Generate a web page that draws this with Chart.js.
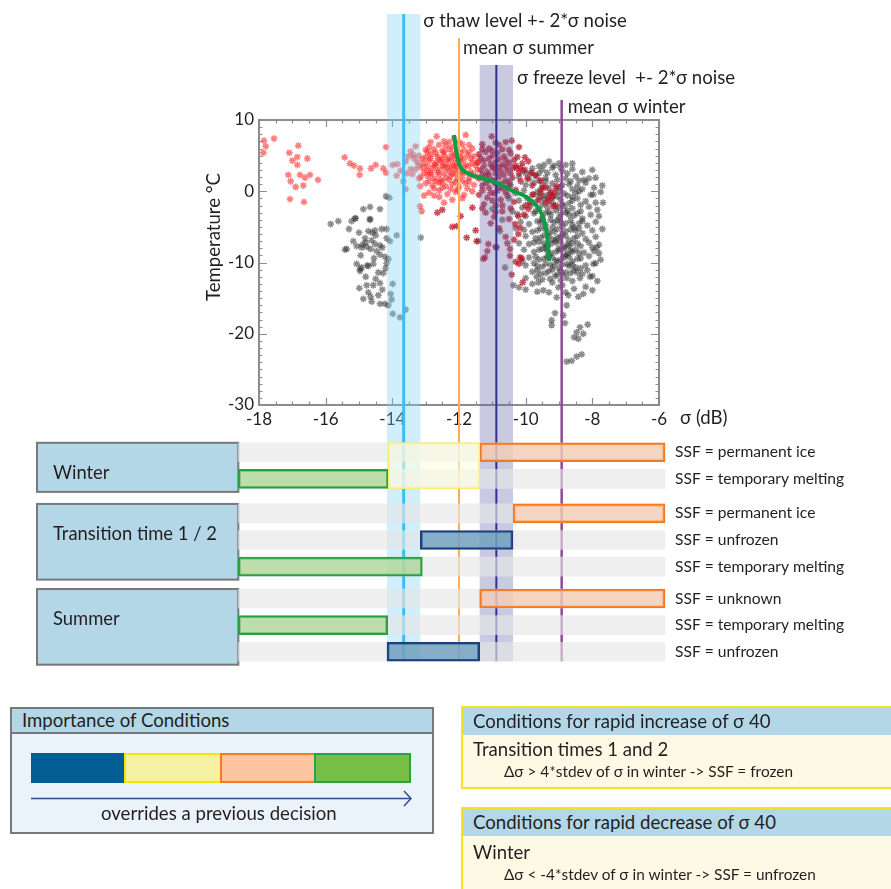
<!DOCTYPE html>
<html>
<head>
<meta charset="utf-8">
<script src="https://cdn.jsdelivr.net/npm/chart.js@4.4.1/dist/chart.umd.min.js"></script>
<style>
  body { margin: 0; background: #fff; font-family: Lato, sans-serif; color: #231f20; }
  #wrap { position: relative; width: 891px; height: 889px; overflow: hidden; }
  canvas { position: absolute; left: 0; }
  .box { position: absolute; box-sizing: border-box; }
  .txt { position: absolute; white-space: nowrap; line-height: 22px; }
</style>
</head>
<body>
<div id="wrap">
  <canvas id="topChart" width="891" height="430" style="top:0"></canvas>
  <canvas id="tableChart" width="891" height="250" style="top:430px"></canvas>

  <!-- importance of conditions -->
  <div class="box" style="left:10px;top:707px;width:424px;height:127px;border:2px solid #77787b;background:#eaf3f9"></div>
  <div class="box" style="left:10px;top:707px;width:424px;height:27px;border:2px solid #77787b;background:#b3d7e6"></div>
  <div class="txt" style="left:22px;top:709px;font-size:18.6px">Importance of Conditions</div>
  <div class="box" style="left:31px;top:753px;width:94px;height:30px;background:#035e96"></div>
  <div class="box" style="left:124px;top:753px;width:98px;height:30px;background:#f6f1a2;border:2px solid #f2e500"></div>
  <div class="box" style="left:220px;top:753px;width:96px;height:30px;background:#fcc49f;border:2px solid #f47b20"></div>
  <div class="box" style="left:314px;top:753px;width:97px;height:30px;background:#76bf44;border:2px solid #2aa14a"></div>
  <svg style="position:absolute;left:0;top:0" width="891" height="889">
    <line x1="31" y1="798.5" x2="410" y2="798.5" stroke="#2b4e8c" stroke-width="1.5"/>
    <polyline points="404,791 411,798.5 404,806" fill="none" stroke="#2b4e8c" stroke-width="1.5"/>
  </svg>
  <div class="txt" style="left:101px;top:802px;font-size:18.6px">overrides a previous decision</div>

  <!-- rapid increase -->
  <div class="box" style="left:461px;top:706px;width:440px;height:83px;border:2px solid #f4e41c;background:#fdf9e4"></div>
  <div class="box" style="left:463px;top:708px;width:440px;height:27px;background:#b3d7e6"></div>
  <div class="txt" style="left:473px;top:710px;font-size:18.6px">Conditions for rapid increase of σ 40</div>
  <div class="txt" style="left:473px;top:738px;font-size:18.6px">Transition times 1 and 2</div>
  <div class="txt" style="left:504px;top:760px;font-size:15.4px">Δσ &gt; 4*stdev of σ in winter -&gt; SSF = frozen</div>

  <!-- rapid decrease -->
  <div class="box" style="left:461px;top:807px;width:440px;height:100px;border:2px solid #f4e41c;background:#fdf9e4"></div>
  <div class="box" style="left:463px;top:809px;width:440px;height:27px;background:#b3d7e6"></div>
  <div class="txt" style="left:473px;top:811px;font-size:18.6px">Conditions for rapid decrease of σ 40</div>
  <div class="txt" style="left:473px;top:841px;font-size:18.6px">Winter</div>
  <div class="txt" style="left:504px;top:863px;font-size:15.4px">Δσ &lt; -4*stdev of σ in winter -&gt; SSF = unfrozen</div>
</div>

<script>
// reference levels (dB)
const thawLevel = -13.66;
const freezeLevel = -10.88;
const noiseHalf = 0.5;
const meanSummer = -12.0;
const meanWinter = -8.92;

// tick labels
const xTicks = [-18, -16, -14, -12, -10, -8, -6];
const yTicks = [-30, -20, -10, 0, 10];

// model curve
const curveX = [-12.15, -12.1, -12.05, -11.97, -11.77, -11.37, -10.87, -10.37, -10.12, -9.92, -9.72, -9.55, -9.42, -9.34, -9.3];
const curveY = [7.9, 6.2, 4.9, 3.5, 2.6, 1.9, 1.2, 0.0, -0.45, -1.0, -1.8, -2.9, -4.6, -7.0, -9.8];

// summer-ish points (light / bright red)
const redPts = [
  [-17.85,7.1],[-17.55,7.4],[-17.8,6.3],[-17.87,5.4],[-17.09,5.4],[-16.82,6.4],[-17.0,4.3],[-16.85,4.8],
  [-16.85,3.7],[-16.55,4.6],[-17.12,2.3],[-16.77,2.3],[-16.47,2.3],[-16.62,1.9],[-17.05,1.4],[-16.67,0.8],
  [-16.9,0.6],[-16.23,1.6],[-17.07,-1.1],[-16.65,-1.5],[-15.43,4.75],[-15.27,3.9],[-15.15,3.6],[-14.97,3.2],
  [-14.98,2.3],[-14.64,3.2],[-14.5,3.7],[-14.19,6.2],[-14.27,3.2],[-14.19,2.6],[-13.99,3.7],[-13.87,2.2],
  [-13.67,1.4],[-13.57,2.5],[-13.45,5.6],[-13.52,4.9],[-13.45,3.1],[-13.37,5.1],[-13.85,3.8],[-13.17,0.7],
  [-13.17,-2.1],[-13.12,-2.8],[-12.59,-0.8],
  [-13.3,6.3],[-13.6,4.2],[-13.75,2.9],[-13.2,1.8],[-13.05,-0.6],[-13.6,0.3],
  [-12.67,7.7],[-11.8,7.9],[-12.3,6.9],[-12.9,6.2],[-12.6,6.5],[-12.2,6.2],[-11.9,6.6],[-12.45,7.0],
  [-13.0,5.8],[-12.75,5.9],[-12.5,5.7],[-12.3,5.9],[-12.05,5.6],[-11.85,5.8],[-11.6,6.0],
  [-13.2,5.0],[-13.0,4.8],[-12.85,5.2],[-12.65,4.9],[-12.45,5.1],[-12.3,4.7],[-12.15,5.0],[-11.95,4.8],[-11.75,5.1],[-11.55,4.9],
  [-13.25,4.1],[-13.05,3.9],[-12.9,4.3],[-12.7,4.0],[-12.55,4.2],[-12.4,3.8],[-12.25,4.3],[-12.1,3.9],[-11.95,4.1],[-11.8,3.7],[-11.6,4.0],[-11.4,4.2],
  [-13.3,3.1],[-13.1,3.3],[-12.95,2.9],[-12.8,3.2],[-12.6,3.0],[-12.45,3.4],[-12.3,2.8],[-12.15,3.1],[-12.0,2.9],[-11.85,3.3],[-11.65,2.7],[-11.45,3.0],
  [-13.15,2.0],[-12.95,2.2],[-12.75,1.8],[-12.6,2.3],[-12.4,1.9],[-12.25,2.1],[-12.05,1.7],[-11.9,2.2],[-11.7,1.9],[-11.5,2.1],
  [-13.0,1.1],[-12.8,0.8],[-12.6,1.2],[-12.4,0.7],[-12.2,1.0],[-12.0,0.6],[-11.8,1.1],[-11.55,0.9],
  [-12.9,-0.2],[-12.6,0.1],[-12.35,-0.4],[-12.1,-0.1],[-11.85,-0.5],[-11.6,0.0],
  [-12.7,3.6],[-12.35,3.3],[-12.2,2.5],[-12.5,4.5],[-12.0,4.4],[-12.85,2.6],[-12.55,1.6],[-12.15,3.6],
  [-12.95,5.5],[-12.7,5.4],[-12.45,5.5],[-12.2,5.3],[-11.95,5.4],[-11.7,5.5],
  [-13.1,4.5],[-12.85,4.6],[-12.6,4.5],[-12.35,4.4],[-12.1,4.6],[-11.85,4.5],[-11.65,4.6],
  [-13.2,3.6],[-12.95,3.5],[-12.75,3.7],[-12.5,3.6],[-12.25,3.5],[-12.05,3.4],[-11.7,3.5],[-11.5,3.6],
  [-13.05,2.6],[-12.85,2.4],[-12.65,2.7],[-12.45,2.5],[-12.1,2.4],[-11.9,2.7],[-11.6,2.4],
  [-12.9,1.5],[-12.7,1.4],[-12.5,1.3],[-12.3,1.6],[-12.1,1.3],[-11.9,1.5],[-11.7,1.4],
  [-12.75,0.4],[-12.5,0.5],[-12.25,0.3],[-12.05,0.2],[-11.75,0.4],
  [-13.35,4.6],[-13.4,2.4],[-12.15,7.4],[-12.85,6.9],[-12.0,6.9],[-12.4,6.4],[-11.7,6.5],[-12.75,-0.6],
  [-12.2,-1.2],[-11.9,-1.0],[-12.45,-1.6]
];

// transition points (dark red)
const darkRedPts = [
  [-11.02,7.7],[-10.42,7.1],[-11.3,6.6],[-10.8,6.5],[-10.6,6.9],[-11.1,6.0],[-10.2,6.2],
  [-11.4,5.2],[-11.2,5.5],[-11.0,5.0],[-10.85,5.4],[-10.65,4.9],[-10.45,5.3],[-10.25,4.8],[-10.02,4.75],[-9.92,4.2],
  [-11.45,4.0],[-11.25,4.3],[-11.05,3.8],[-10.9,4.1],[-10.7,3.7],[-10.5,4.0],[-10.3,3.6],[-10.1,3.9],
  [-11.35,3.0],[-11.15,2.7],[-10.95,3.2],[-10.75,2.8],[-10.55,3.0],[-10.27,3.2],[-10.02,3.0],[-9.82,2.6],
  [-11.4,1.8],[-11.2,2.1],[-11.0,1.6],[-10.8,2.0],[-10.6,1.5],[-10.4,1.9],[-10.15,1.4],
  [-11.3,0.8],[-11.1,0.5],[-10.9,1.0],[-10.7,0.4],[-10.5,0.7],[-10.3,0.2],
  [-11.4,-0.5],[-11.15,-0.9],[-10.95,-0.3],[-10.75,-1.2],[-10.55,-0.6],[-10.35,-1.5],[-11.25,-1.8],[-10.9,-2.0],
  [-11.2,-3.0],[-10.95,-3.6],[-10.7,-2.8],[-10.5,-3.9],[-10.22,-3.5],[-10.32,-4.6],[-10.17,-5.1],[-10.22,-6.0],
  [-11.05,-4.5],[-10.8,-5.2],[-10.6,-6.4],[-10.47,-8.1],[-10.17,-9.3],[-10.47,-9.05],[-10.12,-9.4],[-10.2,-10.2],
  [-10.42,-11.7],[-10.09,-12.8],[-11.27,-9.5],[-11.12,-7.4],[-11.47,-7.0],[-11.22,-9.3],
  [-9.77,-0.45],[-9.32,-0.9],[-9.18,-0.7],[-9.4,-1.6],[-9.1,-2.0],[-9.6,-1.2],[-9.07,0.7],[-9.4,0.6],
  [-9.25,-0.2],[-9.17,-2.1],[-9.87,-1.6],[-9.92,-2.5],[-9.55,1.5],[-9.7,2.2],
  [-12.07,-4.9],[-12.2,-5.0],[-11.77,-6.5],[-12.65,-3.0],[-12.5,-2.6],[-11.95,-3.5],[-11.5,-5.5],[-11.6,-2.3],
  [-11.3,5.9],[-11.0,5.7],[-10.7,5.9],[-10.5,5.8],[-10.9,6.8],[-11.35,4.6],[-11.1,4.6],[-10.8,4.5],[-10.6,4.4],
  [-10.35,4.4],[-11.25,3.5],[-11.0,3.4],[-10.8,3.4],[-10.6,3.5],[-10.4,3.3],[-10.15,3.3],[-11.3,2.4],[-11.1,2.3],
  [-10.9,2.5],[-10.65,2.3],[-10.45,2.5],[-10.2,2.5],[-11.2,1.2],[-10.95,1.4],[-10.7,1.1],[-10.5,1.3],[-11.3,0.1],
  [-11.05,-0.2],[-10.85,0.1],[-10.6,-0.1],[-11.0,-1.3],[-10.7,-2.0],[-10.45,-2.4],[-10.9,-2.9],[-11.3,-2.4],
  [-10.0,-2.0],[-9.55,-0.3],[-9.3,-1.3],[-9.15,-0.2],[-9.5,0.4],[-9.8,0.8],[-9.95,1.8],[-10.05,-3.3],[-10.35,-6.8],
  [-10.55,-7.3],[-10.9,-7.8],[-11.15,-8.4],[-10.3,-9.9]
];

// winter points (grey)
const grayPts = [
  [-14.19,-0.7],[-14.09,-0.9],[-14.67,-2.2],[-14.87,-2.5],[-14.37,-2.5],[-14.67,-3.9],[-15.12,-3.8],[-15.22,-4.2],
  [-15.62,-4.2],[-15.85,-4.6],[-15.1,-3.8],[-14.67,-4.0],[-14.72,-5.6],[-14.52,-5.5],[-14.32,-5.3],[-14.17,-5.3],
  [-13.87,-6.2],[-13.15,-6.5],[-15.17,-7.0],[-14.82,-6.6],[-14.62,-6.9],[-14.17,-6.6],[-14.07,-7.0],[-15.07,-7.7],
  [-14.92,-7.9],[-14.77,-7.8],[-14.52,-7.4],[-14.37,-7.6],[-15.42,-8.2],[-14.47,-8.4],[-14.37,-8.9],[-14.22,-9.2],
  [-14.12,-9.5],[-14.17,-10.1],[-15.07,-10.2],[-14.92,-10.7],[-14.72,-10.5],[-14.57,-10.2],[-14.97,-11.2],[-14.42,-11.4],
  [-14.27,-11.5],[-14.99,-13.6],[-14.77,-13.2],[-14.57,-13.2],[-14.37,-12.9],[-13.99,-13.0],[-14.72,-14.2],[-14.87,-15.1],
  [-14.62,-15.5],[-14.42,-14.6],[-14.37,-15.8],[-14.22,-15.8],[-14.12,-16.0],[-14.02,-15.2],[-13.99,-17.2],[-13.77,-17.7],
  [-13.6,-16.6],[-14.75,-10.4],[-14.9,-7.5],[-14.6,-5.8],[-15.37,-8.1],[-14.97,-10.9],
  [-14.5,-6.2],[-14.8,-7.2],[-14.65,-8.1],[-14.3,-7.9],[-14.95,-9.0],[-14.55,-9.4],[-14.8,-12.0],[-14.5,-12.3],
  [-14.65,-14.8],[-14.3,-13.8],[-14.05,-14.4],[-15.3,-5.3],[-15.0,-5.8],[-14.2,-10.8],
  [-9.3,4.2],[-9.0,3.9],[-8.8,3.7],[-9.6,3.5],[-8.6,3.9],
  [-10.1,2.9],[-9.8,3.2],[-9.5,3.0],[-9.2,3.3],[-8.9,2.8],[-8.6,3.1],[-8.3,2.7],[-8.0,3.0],
  [-10.2,2.0],[-9.9,1.7],[-9.7,2.2],[-9.4,1.9],[-9.1,2.3],[-8.8,1.8],[-8.5,2.1],[-8.25,1.6],[-7.9,1.9],
  [-10.0,0.9],[-9.75,1.2],[-9.5,0.8],[-9.2,1.1],[-8.95,0.6],[-8.7,1.0],[-8.45,0.7],[-8.2,1.2],[-7.95,0.5],[-7.7,0.8],
  [-10.3,-0.3],[-10.05,0.1],[-9.8,-0.5],[-9.55,0.2],[-9.3,-0.4],[-9.0,0.0],[-8.75,-0.6],[-8.5,-0.2],[-8.3,0.3],[-8.05,-0.5],[-7.75,-0.1],
  [-10.2,-1.3],[-9.95,-1.0],[-9.7,-1.5],[-9.45,-1.1],[-9.2,-1.6],[-8.95,-1.2],[-8.7,-1.7],[-8.45,-1.0],[-8.2,-1.4],[-7.9,-1.6],
  [-10.1,-2.3],[-9.85,-2.0],[-9.6,-2.5],[-9.35,-2.2],[-9.1,-2.7],[-8.85,-2.1],[-8.6,-2.4],[-8.35,-2.8],[-8.1,-2.2],[-7.85,-2.6],
  [-10.25,-3.2],[-10.0,-3.5],[-9.75,-3.1],[-9.5,-3.6],[-9.25,-3.3],[-9.0,-3.7],[-8.8,-3.0],[-8.55,-3.4],[-8.3,-3.8],[-8.05,-3.3],
  [-10.15,-4.3],[-9.9,-4.6],[-9.65,-4.2],[-9.4,-4.7],[-9.15,-4.4],[-8.9,-4.9],[-8.65,-4.1],[-8.4,-4.5],[-8.15,-4.8],[-7.9,-4.3],
  [-10.05,-5.4],[-9.8,-5.7],[-9.55,-5.2],[-9.3,-5.8],[-9.05,-5.3],[-8.8,-5.6],[-8.55,-5.1],[-8.3,-5.9],[-8.0,-5.5],
  [-10.0,-6.3],[-9.7,-6.6],[-9.45,-6.2],[-9.2,-6.8],[-8.95,-6.4],[-8.7,-6.9],[-8.45,-6.3],[-8.2,-6.7],[-7.9,-6.4],
  [-9.9,-7.4],[-9.6,-7.1],[-9.35,-7.6],[-9.1,-7.2],[-8.85,-7.8],[-8.6,-7.3],[-8.35,-7.7],[-8.1,-7.2],[-7.8,-7.5],
  [-10.05,-8.2],[-9.75,-8.5],[-9.5,-8.1],[-9.25,-8.7],[-9.0,-8.3],[-8.75,-8.8],[-8.5,-8.2],[-8.25,-8.6],[-7.95,-8.4],
  [-9.9,-9.3],[-9.6,-9.6],[-9.35,-9.2],[-9.1,-9.7],[-8.85,-9.3],[-8.6,-9.8],[-8.35,-9.4],[-8.1,-9.1],[-7.75,-9.6],
  [-10.0,-10.4],[-9.75,-10.1],[-9.5,-10.6],[-9.25,-10.3],[-9.0,-10.8],[-8.75,-10.2],[-8.5,-10.7],[-8.2,-10.4],[-7.9,-10.1],
  [-9.8,-11.3],[-9.55,-11.6],[-9.3,-11.2],[-9.05,-11.7],[-8.8,-11.4],[-8.55,-11.1],[-8.3,-11.6],
  [-10.0,-12.2],[-9.67,-12.0],[-9.27,-12.3],[-9.12,-11.9],[-8.77,-12.2],[-8.37,-12.2],[-8.07,-12.0],[-9.02,-13.5],
  [-10.37,-13.2],[-10.2,-13.5],[-10.0,-13.8],[-9.62,-12.8],[-9.47,-13.9],[-9.3,-14.2],[-8.72,-14.6],[-8.42,-14.8],
  [-8.27,-14.4],[-9.07,-14.9],[-8.9,-13.2],
  [-8.77,-16.0],[-9.12,-17.1],[-8.87,-17.4],[-9.22,-18.1],[-9.22,-18.8],[-8.82,-18.5],[-8.14,-18.7],[-8.37,-19.1],
  [-8.47,-19.8],[-8.27,-20.0],[-8.55,-20.5],[-8.42,-20.7],[-8.32,-22.9],[-8.47,-23.2],[-8.62,-23.8],[-8.77,-23.9],
  [-11.42,-7.0],[-10.87,-7.9],[-10.62,-10.7],[-10.77,-5.6],[-11.0,-2.5],[-10.7,-4.0],[-10.5,-1.0],[-11.1,1.5],[-10.8,0.5],
  [-7.68,-1.6],[-7.97,-0.45],[-7.87,-7.9],[-7.97,-10.2],[-8.0,-11.9],
  [-9.4,1.4],[-9.1,0.4],[-8.85,-0.3],[-9.2,-0.9],[-8.9,-1.8],[-9.3,-2.9],[-8.7,-3.3],[-9.05,-4.1],[-8.8,-4.5],
  [-9.2,-5.1],[-8.9,-6.0],[-9.1,-6.9],[-8.75,-7.5],[-9.0,-8.0],[-8.8,-9.0],[-9.05,-9.9],[-8.7,-10.5],[-8.95,-11.2],
  [-9.3,-9.0],[-8.6,-8.5],[-9.4,-7.9],[-8.5,-5.5],[-9.5,-4.0],[-8.6,-1.3],[-9.6,-0.8],[-8.4,0.0],
  [-9.45,3.7],[-9.15,3.6],[-8.95,3.3],[-8.75,2.5],[-9.35,2.6],[-9.6,2.5],[-9.85,2.5],[-9.05,1.6],[-8.65,1.4],
  [-8.4,1.5],[-9.6,1.5],[-9.3,0.4],[-8.9,0.9],[-8.6,0.3],[-9.65,-0.1],[-9.45,-0.6],[-9.05,-0.7],[-8.6,-0.8],
  [-8.35,-1.9],[-9.5,-1.9],[-9.0,-2.3],[-8.75,-2.7],[-9.7,-2.8],[-9.4,-3.0],[-8.95,-3.2],[-8.45,-3.1],[-9.55,-4.4],
  [-9.25,-4.0],[-8.95,-4.4],[-8.6,-4.7],[-8.3,-4.2],[-9.65,-5.5],[-9.4,-5.3],[-9.15,-5.7],[-8.65,-5.4],[-8.4,-5.2],
  [-9.55,-6.5],[-9.3,-6.3],[-9.05,-6.5],[-8.8,-6.3],[-8.55,-6.6],[-9.75,-7.2],[-9.45,-7.3],[-9.25,-7.4],[-8.95,-7.1],
  [-8.7,-7.7],[-8.45,-7.3],[-9.6,-8.2],[-9.35,-8.4],[-9.1,-8.5],[-8.85,-8.1],[-8.65,-8.3],[-8.4,-8.7],[-9.7,-9.2],
  [-9.45,-9.5],[-9.2,-9.3],[-8.95,-9.6],[-8.7,-9.2],[-8.45,-9.5],[-9.65,-10.5],[-9.4,-10.2],[-9.15,-10.5],[-8.9,-10.3],
  [-8.6,-10.3],[-8.35,-10.8],[-9.65,-11.1],[-9.4,-11.5],[-9.2,-11.0],[-8.9,-11.7],[-8.65,-11.5],[-8.45,-11.4],
  [-9.5,-12.4],[-9.2,-12.8],[-8.95,-12.5],[-8.6,-12.6],[-9.8,-13.0],[-9.65,-14.1],[-8.8,-14.2],[-8.55,-13.7],
  [-8.2,-13.4],[-8.0,-13.9],[-10.1,-9.8],[-10.2,-7.3],[-10.3,-5.2],[-10.4,-2.8],[-10.45,0.9],[-10.0,2.5],[-7.8,-3.5],
  [-7.7,-5.3],[-7.8,-8.7],[-7.85,-12.6],[-8.1,1.8],[-8.0,-7.9],[-8.15,-11.1]
];

// decision table
const seasons = ['Winter', 'Transition time 1 / 2', 'Summer'];
const rowSeason = [0, 0, 1, 1, 1, 2, 2, 2];
const rowLabels = ['SSF = permanent ice', 'SSF = temporary melting', 'SSF = permanent ice', 'SSF = unfrozen',
                   'SSF = temporary melting', 'SSF = unknown', 'SSF = temporary melting', 'SSF = unfrozen'];
const barStart = [-11.38, -18.62, -10.38, -13.16, -18.62, -11.38, -18.62, -14.16];
const barEnd   = [-5.82, -14.12, -5.82, -10.38, -13.1, -5.82, -14.14, -11.38];
const barKind  = ['ice', 'melt', 'ice', 'unfrozen', 'melt', 'ice', 'melt', 'unfrozen'];
const rowRange = [-18.62, -5.82];
const winterUncertain = [-14.12, -11.38];

const kindFill = { ice: 'rgba(250,188,150,0.5)', melt: 'rgba(160,210,130,0.62)', unfrozen: 'rgba(60,128,172,0.58)' };
const kindLine = { ice: '#f47b20', melt: '#27a046', unfrozen: '#1d3f7c' };
const groupGap = [0, 0.3, 0.5];
const rowPos = rowSeason.map((g, i) => i + groupGap[g]);

const FONT = 'Lato, sans-serif';
const INK = '#231f20';

function drawLevels(chart, tops, bottom) {
  const { ctx } = chart;
  const x = chart.scales.x;
  ctx.save();
  // noise bands
  ctx.fillStyle = 'rgba(120,210,240,0.35)';
  let l = x.getPixelForValue(thawLevel - noiseHalf), r = x.getPixelForValue(thawLevel + noiseHalf);
  ctx.fillRect(l, tops.thaw, r - l, bottom - tops.thaw);
  ctx.fillStyle = 'rgba(100,100,170,0.35)';
  l = x.getPixelForValue(freezeLevel - noiseHalf); r = x.getPixelForValue(freezeLevel + noiseHalf);
  ctx.fillRect(l, tops.freeze, r - l, bottom - tops.freeze);
  // level lines
  const line = (v, top, color, w) => {
    const px = x.getPixelForValue(v);
    ctx.strokeStyle = color; ctx.lineWidth = w;
    ctx.beginPath(); ctx.moveTo(px, top); ctx.lineTo(px, bottom); ctx.stroke();
  };
  line(thawLevel, tops.thaw, '#3cbfee', 3);
  line(meanSummer, tops.summer, '#fbad5a', 2);
  line(freezeLevel, tops.freeze, '#2e3192', 2);
  line(meanWinter, tops.winter, '#92479b', 2.5);
  ctx.restore();
}

const levelPlugin = {
  id: 'levels',
  beforeDatasetDraw(chart, args) {
    if (args.index !== 0) return;
    drawLevels(chart, { thaw: 14, summer: 38, freeze: 65, winter: 100 }, chart.height);
  },
  beforeDatasetsDraw(chart) {
    const { ctx, chartArea: a, scales: { x, y } } = chart;
    ctx.save();
    ctx.strokeStyle = '#8c8c8c';
    ctx.lineWidth = 2;
    ctx.strokeRect(a.left, a.top, a.right - a.left, a.bottom - a.top);
    ctx.lineWidth = 1.2;
    ctx.beginPath();
    for (let v = -18; v <= -5.99; v += 0.5) {
      const px = Math.round(x.getPixelForValue(v)) + 0.5;
      const len = Math.abs(v % 2) < 0.01 ? 7 : 3.5;
      ctx.moveTo(px, a.bottom); ctx.lineTo(px, a.bottom - len);
      ctx.moveTo(px, a.top); ctx.lineTo(px, a.top + len);
    }
    for (let v = -30; v <= 10; v += 1) {
      const py = Math.round(y.getPixelForValue(v)) + 0.5;
      const len = v % 10 === 0 ? 8 : 3.5;
      ctx.moveTo(a.left, py); ctx.lineTo(a.left + len, py);
      ctx.moveTo(a.right, py); ctx.lineTo(a.right - len, py);
    }
    ctx.stroke();
    ctx.restore();
  },
  afterDraw(chart) {
    const { ctx, scales: { x } } = chart;
    ctx.save();
    ctx.fillStyle = INK;
    ctx.font = '18.6px ' + FONT;
    ctx.textBaseline = 'middle';
    ctx.fillText('σ thaw level +- 2*σ noise', x.getPixelForValue(thawLevel + noiseHalf) + 3, 21);
    ctx.fillText('mean σ summer', x.getPixelForValue(meanSummer) + 4, 48);
    ctx.fillText('σ freeze level  +- 2*σ noise', x.getPixelForValue(freezeLevel + noiseHalf) + 4, 78);
    ctx.fillText('mean σ winter', x.getPixelForValue(meanWinter) + 6, 107);
    ctx.fillText('σ (dB)', 680, 418);
    ctx.translate(214, 237);
    ctx.rotate(-Math.PI / 2);
    ctx.textAlign = 'center';
    ctx.fillText('Temperature °C', 0, 0);
    ctx.restore();
  }
};

const toXY = pts => pts.map(p => ({ x: p[0], y: p[1] }));
const marker = (color, order, pts) => ({
  type: 'scatter', data: toXY(pts), order,
  pointStyle: 'star', pointRadius: 3.4, pointBorderWidth: 1.5,
  borderColor: color, backgroundColor: color, pointHoverRadius: 3.4
});

new Chart(document.getElementById('topChart'), {
  type: 'scatter',
  data: {
    datasets: [
      { type: 'line', data: curveX.map((v, i) => ({ x: v, y: curveY[i] })), order: 0,
        borderColor: '#0e9c47', borderWidth: 4, pointRadius: 0, cubicInterpolationMode: 'monotone',
        fill: false, borderCapStyle: 'butt' },
      marker('rgba(255,40,40,0.6)', 1, redPts),
      marker('rgba(185,15,35,0.74)', 2, darkRedPts),
      marker('rgba(45,45,45,0.55)', 3, grayPts)
    ]
  },
  options: {
    responsive: false,
    animation: false,
    layout: { padding: { left: 209, right: 232, top: 120, bottom: 3 } },
    plugins: { legend: { display: false }, tooltip: { enabled: false } },
    scales: {
      x: {
        type: 'linear', min: -18, max: -6,
        afterBuildTicks: s => { s.ticks = xTicks.map(v => ({ value: v })); },
        afterFit: s => { s.height = 22; },
        grid: { display: false, drawTicks: false }, border: { display: false },
        ticks: { font: { family: FONT, size: 17 }, color: INK, padding: 4, maxRotation: 0 }
      },
      y: {
        type: 'linear', min: -30, max: 10,
        afterBuildTicks: s => { s.ticks = yTicks.map(v => ({ value: v })); },
        afterFit: s => { s.width = 50; },
        grid: { display: false, drawTicks: false }, border: { display: false },
        ticks: { font: { family: FONT, size: 17 }, color: INK, padding: 5 }
      }
    }
  },
  plugins: [levelPlugin]
});

const tablePlugin = {
  id: 'table',
  beforeDatasetsDraw(chart) {
    const { ctx, scales: { x, y } } = chart;
    const bottom = y.getPixelForValue(rowPos[7]) + 9.5;
    drawLevels(chart, { thaw: 0, summer: 0, freeze: 0, winter: 0 }, bottom);
    ctx.save();
    const right = x.getPixelForValue(rowRange[0]);
    seasons.forEach((name, g) => {
      const rows = rowPos.filter((p, i) => rowSeason[i] === g);
      const top = y.getPixelForValue(rows[0]) - 9.5;
      const bot = y.getPixelForValue(rows[rows.length - 1]) + 13;
      ctx.fillStyle = '#b3d7e6';
      ctx.fillRect(37, top, right - 37, bot - top);
      ctx.strokeStyle = '#77787b';
      ctx.lineWidth = 2;
      ctx.strokeRect(37, top, right - 37, bot - top);
      ctx.fillStyle = INK;
      ctx.font = '18.4px ' + FONT;
      ctx.textBaseline = 'middle';
      ctx.fillText(name, 53, top + 30);
    });
    ctx.restore();
  },
  afterDraw(chart) {
    const { ctx, scales: { x, y } } = chart;
    ctx.save();
    ctx.fillStyle = INK;
    ctx.font = '15.6px ' + FONT;
    ctx.textBaseline = 'middle';
    rowLabels.forEach((t, i) => ctx.fillText(t, x.getPixelForValue(rowRange[1]) + 10, y.getPixelForValue(rowPos[i])));
    ctx.restore();
  }
};

new Chart(document.getElementById('tableChart'), {
  type: 'bar',
  data: {
    datasets: [
      { label: 'rows', order: 3, data: rowPos.map(p => ({ x: rowRange, y: p })),
        backgroundColor: 'rgba(231,231,231,0.65)', borderWidth: 0, barThickness: 19 },
      { label: 'decision', order: 2, data: rowPos.map((p, i) => ({ x: [barStart[i], barEnd[i]], y: p })),
        backgroundColor: barKind.map(k => kindFill[k]), borderColor: barKind.map(k => kindLine[k]),
        borderWidth: 2, borderSkipped: false, barThickness: 19 },
      { label: 'uncertain', order: 1, data: [{ x: winterUncertain, y: (rowPos[0] + rowPos[1]) / 2 }],
        backgroundColor: 'rgba(255,255,225,0.55)', borderColor: '#f7ef7a', borderWidth: 1.5,
        borderSkipped: false, barThickness: 46 }
    ]
  },
  options: {
    indexAxis: 'y',
    responsive: false,
    animation: false,
    layout: { padding: { left: 259, right: 232, top: 9, bottom: 15 } },
    plugins: { legend: { display: false }, tooltip: { enabled: false } },
    datasets: { bar: { grouped: false, clip: false } },
    scales: {
      x: { type: 'linear', min: -18, max: -6, display: false },
      y: { type: 'linear', min: -0.5, max: 8, reverse: true, offset: false, display: false }
    }
  },
  plugins: [tablePlugin]
});
</script>
</body>
</html>
